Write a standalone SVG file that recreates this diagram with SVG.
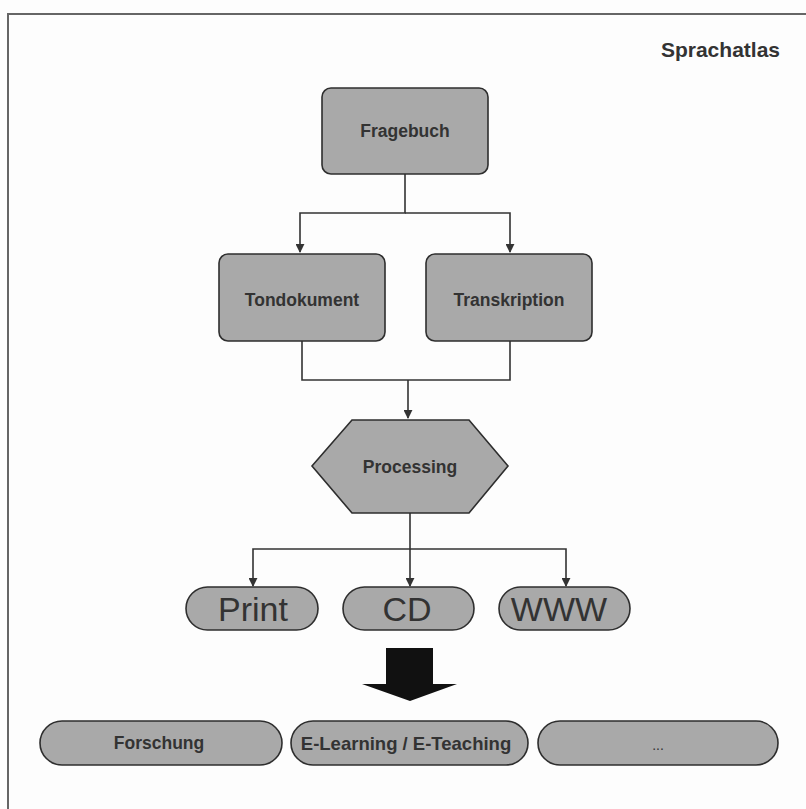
<svg xmlns="http://www.w3.org/2000/svg" width="806" height="809" viewBox="0 0 806 809">
<defs>
<style>
.box{fill:#a9a9a9;stroke:#2e2e2e;stroke-width:1.6}
.lbl{font-family:"Liberation Sans",Arial,sans-serif;font-size:17.5px;font-weight:bold;fill:#333;text-anchor:middle;dominant-baseline:central}
.big{font-family:"Liberation Sans",Arial,sans-serif;font-size:34px;fill:#333;text-anchor:middle;dominant-baseline:central}
.con{fill:none;stroke:#333;stroke-width:1.6}
</style>
<marker id="arr" viewBox="0 0 10 10" refX="9" refY="5" markerWidth="9" markerHeight="9" markerUnits="userSpaceOnUse" orient="auto">
<path d="M0,0 L10,5 L0,10 z" fill="#333"/>
</marker>
</defs>
<rect width="806" height="809" fill="#fdfdfd"/>
<path d="M8,809 V14 H806" fill="none" stroke="#666" stroke-width="2"/>
<text x="780" y="57" text-anchor="end" font-family="'Liberation Sans',Arial,sans-serif" font-size="21" font-weight="bold" fill="#333">Sprachatlas</text>

<g id="connectors">
<path class="con" d="M405,174 V213 H300 V252" marker-end="url(#arr)"/>
<path class="con" d="M405,213 H510 V252" marker-end="url(#arr)"/>
<path class="con" d="M302,341 V380 H510 V341"/>
<path class="con" d="M408,380 V418" marker-end="url(#arr)"/>
<path class="con" d="M410,513 V549 H253 V586" marker-end="url(#arr)"/>
<path class="con" d="M410,549 V586" marker-end="url(#arr)"/>
<path class="con" d="M410,549 H566 V586" marker-end="url(#arr)"/>
<path d="M386,648 H433 V684 H457 L410,701 L362,684 H386 Z" fill="#111"/>
</g>

<g id="fragebuch"><rect class="box" x="322" y="88" width="166" height="86" rx="9"/><text class="lbl" x="405" y="131">Fragebuch</text></g>
<g id="tondokument"><rect class="box" x="219" y="254" width="166" height="87" rx="9"/><text class="lbl" x="302" y="300">Tondokument</text></g>
<g id="transkription"><rect class="box" x="426" y="254" width="166" height="87" rx="9"/><text class="lbl" x="509" y="300">Transkription</text></g>
<g id="processing"><polygon class="box" points="352,420 469,420 508,466 469,513 352,513 312,466"/><text class="lbl" x="410" y="467">Processing</text></g>
<g id="print"><rect class="box" x="186" y="587" width="132" height="43" rx="21.5"/><text class="big" x="253" y="609">Print</text></g>
<g id="cd"><rect class="box" x="343" y="587" width="131" height="43" rx="21.5"/><text class="big" x="407" y="609">CD</text></g>
<g id="www"><rect class="box" x="499" y="587" width="131" height="43" rx="21.5"/><text class="big" x="559" y="609">WWW</text></g>
<g id="forschung"><rect class="box" x="40" y="721" width="242" height="44" rx="22"/><text class="lbl" x="159" y="743">Forschung</text></g>
<g id="elearning"><rect class="box" x="291" y="721" width="237" height="44" rx="22"/><text class="lbl" x="406" y="743" style="font-size:18.5px">E-Learning / E-Teaching</text></g>
<g id="more"><rect class="box" x="538" y="721" width="240" height="44" rx="22"/><text class="lbl" x="658" y="745" style="font-size:14px;font-weight:normal">...</text></g>
</svg>
